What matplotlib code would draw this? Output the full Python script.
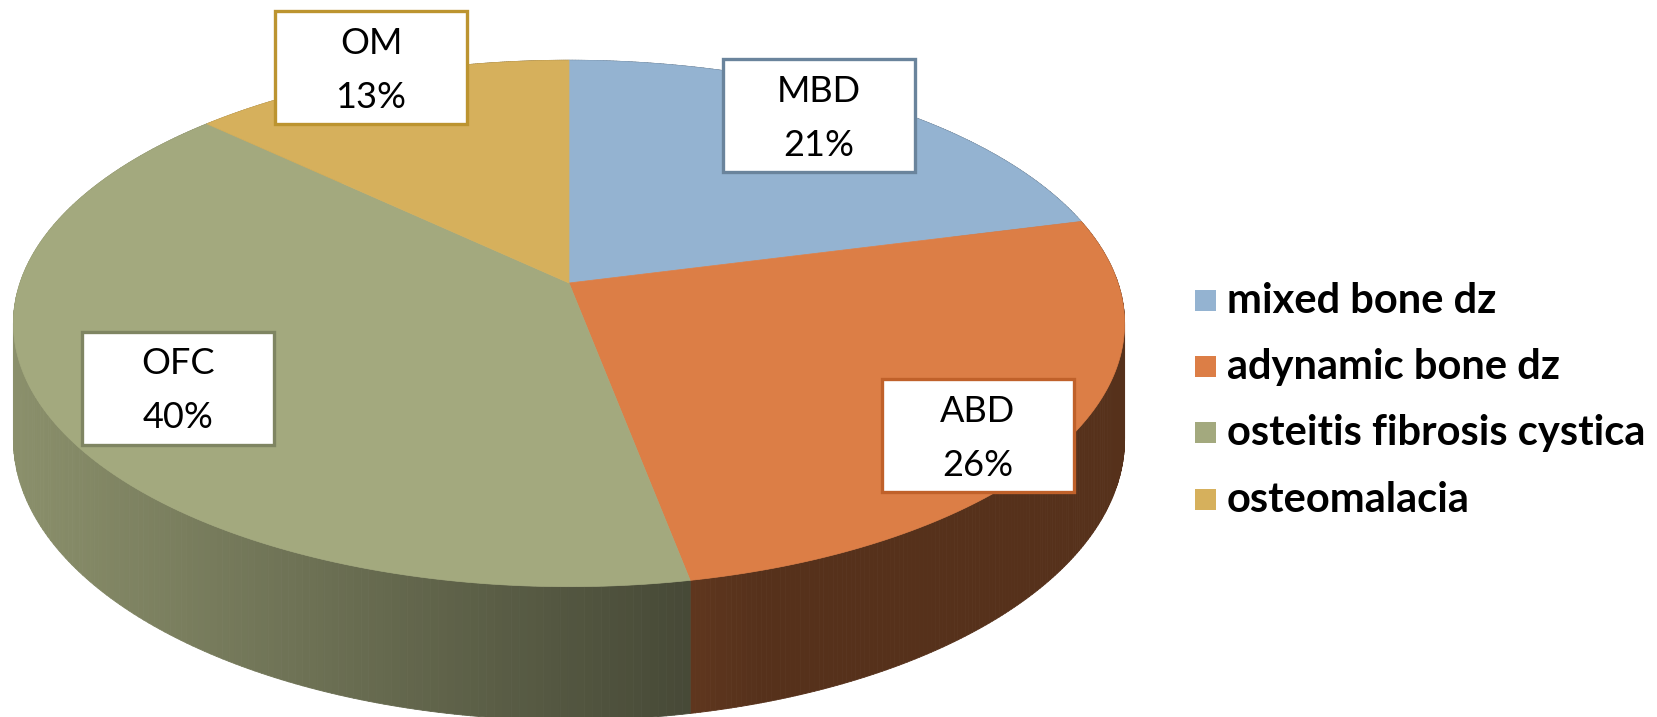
import numpy as np
import matplotlib
matplotlib.use("Agg")
import matplotlib.pyplot as plt
from matplotlib.patches import Polygon, Rectangle
from matplotlib.collections import PolyCollection
from matplotlib.colors import to_rgb

# data
categories = ["mixed bone dz", "adynamic bone dz", "osteitis fibrosis cystica", "osteomalacia"]
short_names = ["MBD", "ABD", "OFC", "OM"]
shares = [21, 26, 40, 13]

colors = ["#94b3d1", "#dc7e46", "#a3a97e", "#d6b05c"]
edge_colors = ["#6a849c", "#c0612a", "#7f8562", "#bc9430"]

# label boxes (centre in pixels)
box_centers = [(819, 115), (978, 435), (178, 388), (371, 67)]
BOX_W, BOX_H = 192, 113

# projection of the 3d disc (pixels, y down)
CX, CY = 569, 283
A, B, C, H = 549, 257, 0.1537, 113


def proj(t, level=0.0):
    den = 1 + C * np.sin(t)
    x = CX + A * np.cos(t) / den
    y = CY - (B * np.sin(t) - H * level) / den
    return x, y


def shade(x):
    return float(np.interp(x, [15, 760], [0.85, 0.39]))


fig = plt.figure(figsize=(16.58, 7.17), dpi=100)
ax = fig.add_axes([0, 0, 1, 1])
ax.set_xlim(0, 1658)
ax.set_ylim(717, 0)
ax.axis("off")

fracs = np.array(shares, dtype=float) / sum(shares)
bounds = np.deg2rad(90 - 360 * np.concatenate([[0], np.cumsum(fracs)]))

# side wall, painter's order (far strips first)
strips = []
for i in range(len(shares)):
    ts = np.linspace(bounds[i], bounds[i + 1], 200)
    base = np.array(to_rgb(colors[i]))
    for t0, t1 in zip(ts[:-1], ts[1:]):
        x0, y0 = proj(t0)
        x1, y1 = proj(t1)
        x2, y2 = proj(t1, 1)
        x3, y3 = proj(t0, 1)
        col = tuple(base * shade((x0 + x1) / 2))
        strips.append((np.sin((t0 + t1) / 2), [(x0, y0), (x1, y1), (x2, y2), (x3, y3)], col))
strips.sort(key=lambda s: -s[0])
pc = PolyCollection([s[1] for s in strips], facecolors=[s[2] for s in strips],
                    edgecolors=[s[2] for s in strips], linewidths=0.6)
ax.add_collection(pc)

# top face
for i in range(len(shares)):
    ts = np.linspace(bounds[i], bounds[i + 1], 300)
    xs, ys = proj(ts)
    pts = [(CX, CY)] + list(zip(xs, ys))
    ax.add_patch(Polygon(pts, closed=True, facecolor=colors[i], edgecolor=colors[i], lw=0.5))

# data labels
for (bx, by), name, val, ec in zip(box_centers, short_names, shares, edge_colors):
    ax.add_patch(Rectangle((bx - BOX_W / 2, by - BOX_H / 2), BOX_W, BOX_H,
                           facecolor="white", edgecolor=ec, lw=2.4, zorder=5))
    ax.text(bx, by - 24, name, ha="center", va="center", fontsize=26,
            family="Lato", zorder=6)
    ax.text(bx, by + 30, f"{val}%", ha="center", va="center", fontsize=26,
            family="Lato", zorder=6)

# legend
leg_y = [301, 367, 433, 500]
for y, lab, col in zip(leg_y, categories, colors):
    ax.add_patch(Rectangle((1195, y - 11), 21, 21, facecolor=col, edgecolor="none"))
    ax.text(1227, y, lab, ha="left", va="center", fontsize=30, family="Lato",
            fontweight="bold")

fig.savefig("out.png", dpi=100)
